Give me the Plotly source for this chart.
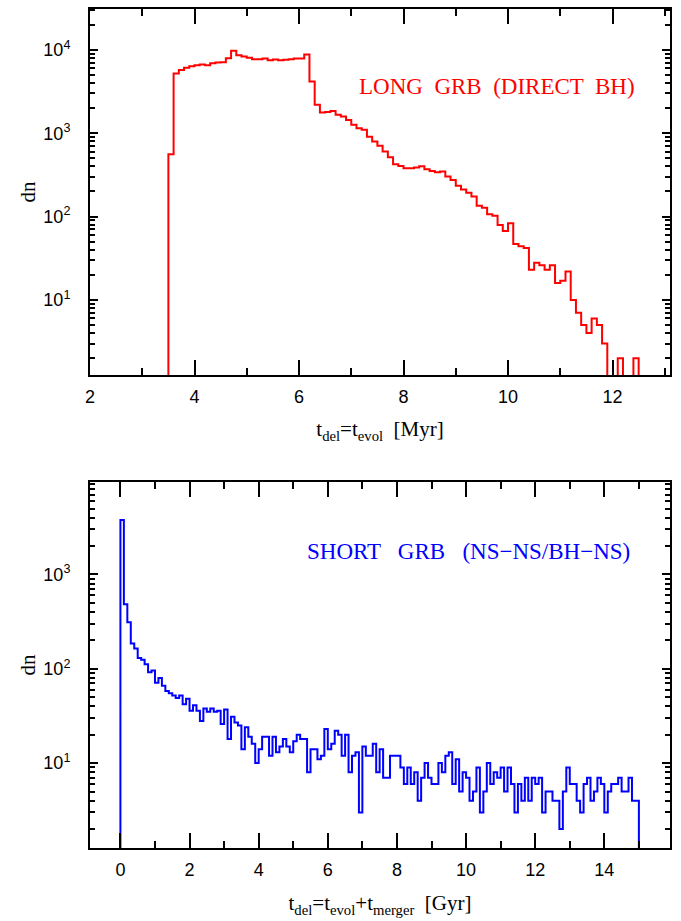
import plotly.graph_objects as go

# long GRB (direct BH) histogram, bin width 0.1 Myr starting at 3.5 Myr
long_start = 3.5
long_width = 0.1
long_counts = [560, 5200, 5750, 6080, 6370, 6550, 6670, 6550, 6920, 7050,
               7100, 7950, 9730, 8630, 8320, 8020, 7730, 7730, 7870, 7520,
               7650, 7520, 7590, 7730, 7870, 7870, 8790, 4170, 2190, 1770,
               1800, 1850, 1660, 1585, 1445, 1260, 1150, 1100, 910, 795,
               705, 605, 515, 425, 405, 380, 380, 387, 402, 370,
               353, 340, 347, 302, 275, 235, 211, 193, 174, 135,
               128, 107, 102, 79, 67, 83, 47, 44, 42, 23,
               28, 26, 23, 26, 16, 17, 22, 10, 7, 5,
               4, 6, 5, 3, 0, 0, 2, 0, 0, 2]

# short GRB (NS-NS/BH-NS) histogram, bin width 0.1 Gyr starting at 0
short_start = 0.0
short_width = 0.1
short_counts = [3780, 482, 311, 185, 164, 130, 125, 112, 92, 96,
                71, 80, 66, 58, 55, 52, 49, 52, 42, 48,
                36, 41, 36, 28, 38, 35, 38, 35, 36, 26,
                37, 18, 31, 27, 25, 14, 24, 19, 16, 10,
                14, 19, 19, 12, 19, 13, 15, 18, 15, 13,
                17, 20, 18, 18, 8, 14, 14, 11, 12, 23,
                14, 16, 22, 20, 12, 20, 8, 12, 13, 3,
                15, 12, 12, 16, 8, 14, 7, 7, 12, 12,
                12, 9, 6, 9, 6, 8, 4, 7, 10, 7,
                6, 6, 10, 8, 12, 13, 6, 11, 5, 8,
                7, 4, 5, 9, 3, 5, 10, 6, 8, 7,
                9, 5, 9, 6, 3, 6, 4, 7, 4, 7,
                6, 7, 3, 5, 5, 4, 4, 2, 5, 9,
                6, 6, 4, 3, 6, 7, 4, 5, 7, 6,
                3, 5, 6, 6, 7, 5, 5, 7, 4, 4]

y_tickvals = [10, 100, 1000, 10000]
y_ticktext = ["10<sup>1</sup>", "10<sup>2</sup>", "10<sup>3</sup>", "10<sup>4</sup>"]
y_minor = [m * 10 ** e for e in range(0, 5) for m in range(2, 10)]

FLOOR = 0.1  # empty bins drop below the log axis


def step_xy(start, width, counts):
    xs = [start]
    ys = [FLOOR]
    for i, c in enumerate(counts):
        xs.append(round(start + i * width, 3))
        ys.append(c if c > 0 else FLOOR)
    xs.append(round(start + len(counts) * width, 3))
    ys.append(FLOOR)
    return xs, ys


fig = go.Figure()

x1, y1 = step_xy(long_start, long_width, long_counts)
fig.add_trace(go.Scatter(x=x1, y=y1, mode="lines", line_shape="hv",
                         line=dict(color="#ff0000", width=2),
                         xaxis="x", yaxis="y", showlegend=False))

x2, y2 = step_xy(short_start, short_width, short_counts)
fig.add_trace(go.Scatter(x=x2, y=y2, mode="lines", line_shape="hv",
                         line=dict(color="#0000ff", width=2),
                         xaxis="x2", yaxis="y2", showlegend=False))

tickfont = dict(family="Liberation Sans, Arial, sans-serif", size=18, color="black")
titlefont = dict(family="Liberation Serif, Times New Roman, serif", size=21, color="black")
labelfont = "Liberation Serif, Times New Roman, serif"

common_x = dict(showline=True, linecolor="black", linewidth=2, mirror="allticks",
                ticks="inside", ticklen=15, tickwidth=1.5, tickcolor="black",
                showgrid=False, zeroline=False, tickfont=tickfont, automargin=False,
                ticklabelstandoff=4,
                minor=dict(ticks="inside", ticklen=7, tickwidth=1.5, tickcolor="black",
                           dtick=1, showgrid=False))
common_y = dict(type="log", showline=True, linecolor="black", linewidth=2,
                mirror="allticks", ticks="inside", ticklen=8, tickwidth=1.5,
                tickcolor="black", showgrid=False, zeroline=False, tickfont=tickfont,
                automargin=False, ticklabelstandoff=14,
                tickvals=y_tickvals, ticktext=y_ticktext,
                minor=dict(ticks="inside", ticklen=5, tickwidth=1.5, tickcolor="black",
                           tickvals=y_minor, showgrid=False),
                title=dict(text="dn", font=titlefont, standoff=2))

fig.update_layout(
    width=681, height=921,
    margin=dict(l=90, r=11, t=9, b=73, autoexpand=False),
    paper_bgcolor="white", plot_bgcolor="white",
    xaxis=dict(common_x, domain=[0, 1], anchor="y", range=[2, 13.1],
               tick0=2, dtick=2,
               title=dict(text="t<sub>del</sub>=t<sub>evol</sub>  [Myr]",
                          font=titlefont, standoff=16)),
    yaxis=dict(common_y, domain=[0.5638, 1], anchor="x", range=[0.1, 4.49]),
    xaxis2=dict(common_x, domain=[0, 1], anchor="y2", range=[-0.88, 15.9],
                tick0=0, dtick=2,
                title=dict(text="t<sub>del</sub>=t<sub>evol</sub>+t<sub>merger</sub>  [Gyr]",
                           font=titlefont, standoff=17)),
    yaxis2=dict(common_y, domain=[0, 0.4362], anchor="x2", range=[0.1, 3.98]),
    annotations=[
        dict(text="LONG  GRB  (DIRECT  BH)", xref="x domain", yref="y domain",
             x=0.943, y=0.787, xanchor="right", yanchor="middle", showarrow=False,
             font=dict(family=labelfont, size=23, color="#ff0000")),
        dict(text="SHORT   GRB   (NS\u2212NS/BH\u2212NS)", xref="x2 domain", yref="y2 domain",
             x=0.934, y=0.809, xanchor="right", yanchor="middle", showarrow=False,
             font=dict(family=labelfont, size=23, color="#0000ff")),
    ],
)

fig.write_html("out.html", config={"displayModeBar": False},
               post_script="document.body.style.margin='0';")
